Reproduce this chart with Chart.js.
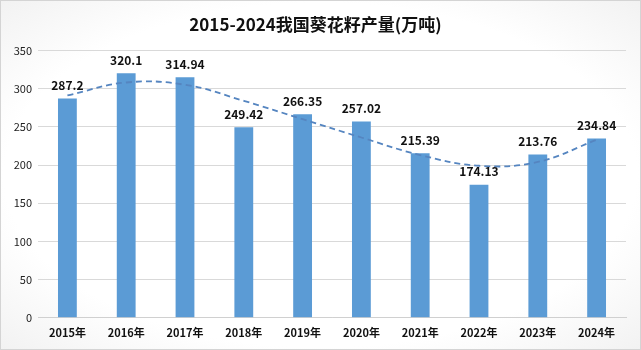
<!DOCTYPE html>
<html>
<head>
<meta charset="utf-8">
<script src="https://cdn.jsdelivr.net/npm/chart.js@4/dist/chart.umd.min.js"></script>
<style>
  html, body { margin: 0; padding: 0; background: #fff; }
  #wrap {
    position: relative; width: 639px; height: 348px;
    border: 1px solid #d4d4d4;
    background: radial-gradient(ellipse at center, #ffffff 70%, #f2f2f2 100%);
  }
</style>
</head>
<body>
<div id="wrap"><canvas id="c" width="639" height="348"></canvas></div>
<script>
const years = ["2015年", "2016年", "2017年", "2018年", "2019年", "2020年", "2021年", "2022年", "2023年", "2024年"];
const output = [287.2, 320.1, 314.94, 249.42, 266.35, 257.02, 215.39, 174.13, 213.76, 234.84];
// trend line
const trend = [291, 308, 305, 284, 260, 236, 213, 199, 204, 233];
const yTicks = [0, 50, 100, 150, 200, 250, 300, 350];

const CJK = '"Noto Sans CJK SC", "Microsoft YaHei", sans-serif';

// value labels above the bars
const barLabels = {
  id: "barLabels",
  afterDatasetsDraw(chart) {
    const ctx = chart.ctx;
    const meta = chart.getDatasetMeta(1);
    ctx.save();
    ctx.font = "bold 12px " + CJK;
    ctx.fillStyle = "#111";
    ctx.textAlign = "center";
    ctx.textBaseline = "bottom";
    meta.data.forEach((bar, i) => {
      ctx.fillText(String(output[i]), bar.x, bar.y - 7);
    });
    ctx.restore();
  }
};

new Chart(document.getElementById("c"), {
  data: {
    labels: years,
    datasets: [
      {
        type: "line",
        data: trend,
        borderColor: "#5585c0",
        borderWidth: 1.8,
        borderDash: [6, 4],
        pointRadius: 0,
        fill: false,
        tension: 0.4,
        order: 0,
      },
      {
        type: "bar",
        data: output,
        backgroundColor: "#5b9bd5",
        barPercentage: 0.64,
        categoryPercentage: 0.5,
        order: 1,
      },
    ],
  },
  options: {
    responsive: false, animation: false,
    layout: { padding: { top: 9, right: 14, left: 4, bottom: 2 } },
    plugins: {
      legend: { display: false },
      tooltip: { enabled: false },
      title: {
        display: true,
        text: "2015-2024我国葵花籽产量(万吨)",
        color: "#111",
        font: { family: CJK, size: 17, weight: "bold" },
        padding: { top: 4, bottom: 16 },
      },
    },
    scales: {
      x: {
        grid: { display: false, drawTicks: false },
        border: { color: "#d0d0d0" },
        ticks: {
          color: "#111", padding: 8,
          font: { family: CJK, size: 11, weight: "bold" },
        },
      },
      y: {
        min: 0, max: 350,
        afterBuildTicks(s) { s.ticks = yTicks.map(v => ({ value: v })); },
        afterFit(s) { s.width = 33; },
        grid: { color: "#d9d9d9", drawTicks: false },
        border: { display: false },
        ticks: {
          color: "#222", padding: 6,
          font: { family: CJK, size: 11 },
        },
      },
    },
  },
  plugins: [barLabels],
});
</script>
</body>
</html>
